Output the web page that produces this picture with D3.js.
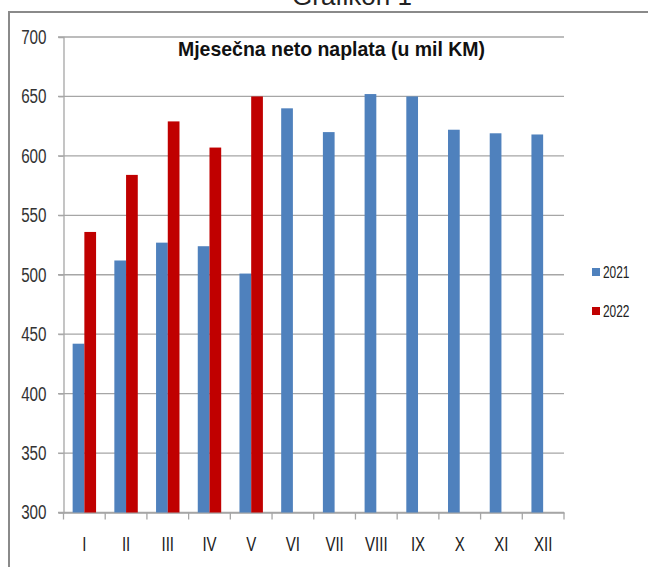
<!DOCTYPE html>
<html>
<head>
<meta charset="utf-8">
<script src="https://cdn.jsdelivr.net/npm/d3@7"></script>
<style>
  body { margin: 0; background: #fff; }
  svg { display: block; }
  text { font-family: "Liberation Sans Narrow", "Arial Narrow", "Liberation Sans", sans-serif; }
</style>
</head>
<body>
<div id="chart"></div>
<script>
// data
const months = ["I", "II", "III", "IV", "V", "VI", "VII", "VIII", "IX", "X", "XI", "XII"]
const series = ["2021", "2022"]
const values2021 = [442, 512, 527, 524, 501, 640, 620, 652, 650, 622, 619, 618]
const values2022 = [536, 584, 629, 607, 650]
const yTicks = [300, 350, 400, 450, 500, 550, 600, 650, 700]

const colors = {"2021": "#4f81bd", "2022": "#c00000"}

const width = 648, height = 567

// squeeze text sideways, the original font is a narrow one
function condense(sel, k) {
  sel.each(function() {
    const w = this.getComputedTextLength()
    d3.select(this)
      .attr("textLength", w * k)
      .attr("lengthAdjust", "spacingAndGlyphs")
  })
}

const svg = d3.select("#chart").append("svg")
    .attr("width", width)
    .attr("height", height)

// frame of the picture
svg.append("text")
    .attr("x", 352)
    .attr("y", 5)
    .attr("text-anchor", "middle")
    .style("font-family", "'Liberation Sans', sans-serif")
    .style("font-size", "26px")
    .attr("fill", "#222")
    .text("Grafikon 1")

svg.append("path")
    .attr("d", "M9,567 V12 H648")
    .attr("fill", "none")
    .attr("stroke", "#8a8a8a")
    .attr("stroke-width", 2)

// scales
const x0 = d3.scaleBand()
    .domain(months)
    .range([63.5, 564])
    .padding(0)

const x1 = d3.scaleBand()
    .domain(series)
    .range([0, x0.bandwidth()])
    .paddingInner(0)
    .paddingOuter(0.78)

const y = d3.scaleLinear()
    .domain([300, 700])
    .range([512.5, 37])

// gridlines
svg.append("g")
  .selectAll("line")
  .data(yTicks)
  .enter().append("line")
    .attr("x1", 58)
    .attr("x2", 564)
    .attr("y1", d => y(d))
    .attr("y2", d => y(d))
    .attr("stroke", "#a6a6a6")
    .attr("stroke-width", 1.3)

// y axis
const yAxis = svg.append("g")
    .attr("transform", "translate(63.5,0)")
    .call(d3.axisLeft(y).tickValues(yTicks).tickSize(5).tickPadding(12))
yAxis.select(".domain").attr("stroke", "#a6a6a6").attr("stroke-width", 1.3)
yAxis.selectAll(".tick line").attr("stroke", "#a6a6a6")
yAxis.selectAll("text")
    .style("font-size", "20px")
    .attr("fill", "#333")
    .call(condense, 0.76)

// x axis
const xAxis = svg.append("g")
    .attr("transform", "translate(0," + y(300) + ")")
    .call(d3.axisBottom(x0).tickSize(0).tickPadding(24))
xAxis.select(".domain").attr("stroke", "#a6a6a6").attr("stroke-width", 1.3)
xAxis.selectAll("text")
    .style("font-size", "20px")
    .attr("fill", "#222")
    .call(condense, 0.75)

// tick marks between categories
svg.append("g")
  .selectAll("line")
  .data(months.concat(["end"]))
  .enter().append("line")
    .attr("x1", (d, i) => i < months.length ? x0(d) : x0.range()[1])
    .attr("x2", (d, i) => i < months.length ? x0(d) : x0.range()[1])
    .attr("y1", y(300))
    .attr("y2", y(300) + 7)
    .attr("stroke", "#a6a6a6")
    .attr("stroke-width", 1.3)

// bars
const barData = []
months.forEach(function(m, i) {
  if (values2021[i] != null) barData.push({month: m, year: "2021", value: values2021[i]})
  if (values2022[i] != null) barData.push({month: m, year: "2022", value: values2022[i]})
})

svg.append("g")
  .selectAll("rect")
  .data(barData)
  .enter().append("rect")
    .attr("x", d => x0(d.month) + x1(d.year))
    .attr("width", x1.bandwidth())
    .attr("y", d => y(d.value))
    .attr("height", d => y(300) - y(d.value))
    .attr("fill", d => colors[d.year])

// title
svg.append("text")
    .attr("x", 178)
    .attr("y", 56)
    .attr("textLength", 307)
    .attr("lengthAdjust", "spacingAndGlyphs")
    .style("font-size", "21px")
    .style("font-weight", "bold")
    .attr("fill", "#111")
    .text("Mjesečna neto naplata (u mil KM)")

// legend
const legend = svg.selectAll(".legend-entry")
  .data(series)
  .enter().append("g")
    .attr("class", "legend-entry")
    .attr("transform", (d, i) => "translate(592," + (268 + i * 39) + ")")

legend.append("rect")
    .attr("width", 8)
    .attr("height", 8)
    .attr("fill", d => colors[d])

legend.append("text")
    .attr("x", 11)
    .attr("y", 10)
    .style("font-size", "17px")
    .attr("fill", "#222")
    .text(d => d)
    .call(condense, 0.7)
</script>
</body>
</html>
